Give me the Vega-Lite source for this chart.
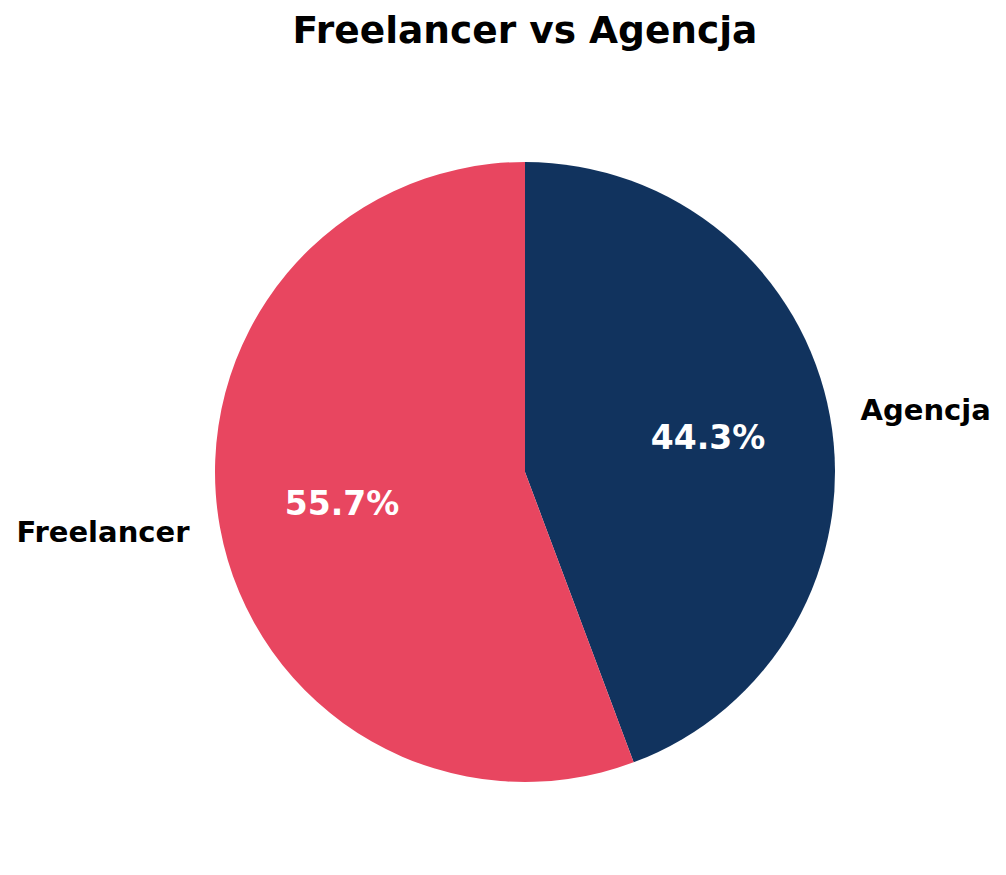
{
  "$schema": "https://vega.github.io/schema/vega-lite/v6.json",
  "width": 962,
  "height": 804,
  "autosize": {"type": "none"},
  "padding": {"left": 44, "top": 70, "right": 0, "bottom": 0},
  "background": "white",
  "title": {
    "text": "Freelancer vs Agencja",
    "font": "DejaVu Sans",
    "fontSize": 37.5,
    "fontWeight": "bold",
    "color": "black",
    "anchor": "middle",
    "baseline": "alphabetic",
    "offset": -10
  },
  "data": {
    "values": [
      {"category": "Agencja", "value": 44.3, "pct": "44.3%"},
      {"category": "Freelancer", "value": 55.7, "pct": "55.7%"}
    ]
  },
  "encoding": {
    "theta": {"field": "value", "type": "quantitative", "stack": true},
    "order": {"field": "category", "sort": "ascending"}
  },
  "layer": [
    {
      "mark": {"type": "arc", "outerRadius": 310, "stroke": null},
      "encoding": {
        "color": {
          "field": "category",
          "type": "nominal",
          "scale": {"domain": ["Agencja", "Freelancer"], "range": ["#11335e", "#e84660"]},
          "legend": null
        }
      }
    },
    {
      "mark": {"type": "text", "radius": 186, "font": "DejaVu Sans", "fontSize": 33, "fontWeight": "bold", "color": "white", "align": "center", "baseline": "middle"},
      "encoding": {"text": {"field": "pct"}}
    },
    {
      "mark": {
        "type": "text",
        "radius": 341,
        "font": "DejaVu Sans",
        "fontSize": 29,
        "fontWeight": "bold",
        "color": "black",
        "baseline": "middle",
        "align": {"expr": "datum.category == 'Agencja' ? 'left' : 'right'"}
      },
      "encoding": {"text": {"field": "category"}}
    }
  ]
}
